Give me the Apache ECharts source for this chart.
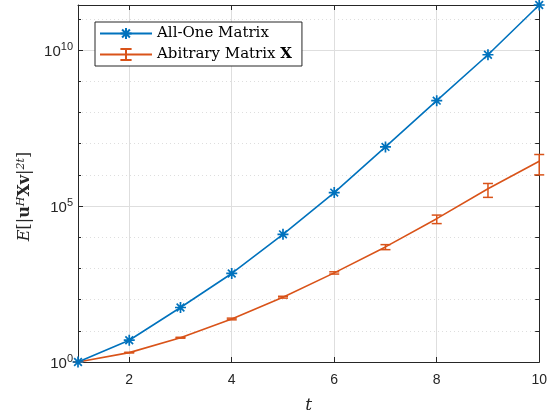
<!DOCTYPE html>
<html>
<head>
<meta charset="utf-8">
<script src="https://cdn.jsdelivr.net/npm/echarts@6/dist/echarts.min.js"></script>
<style>
  html, body { margin: 0; padding: 0; background: #fff; }
  #chart { width: 550px; height: 419px; }
</style>
</head>
<body>
<div id="chart"></div>
<script>
// Moment order t
const tValues = [1, 2, 3, 4, 5, 6, 7, 8, 9, 10];
// E[|u^H X v|^{2t}] for the all-one matrix
const allOneValues = [1, 5, 56, 690, 12400, 2.7e5, 7.9e6, 2.4e8, 7.1e9, 2.8e11];
// Mean and spread for an arbitrary matrix X
const arbitraryMean = [1, 2, 6, 24, 120, 720, 4900, 39400, 3.6e5, 2.75e6];
const arbitraryErr = [0, 0.05, 0.2, 1.5, 8, 60, 900, 12000, 1.7e5, 1.75e6];
// Y-axis range and labelled decades
const yMin = 1;
const yMax = 2.8e11;
const yLabelledExponents = [0, 5, 10];

const BLUE = '#0072BD';
const ORANGE = '#D95319';
const AXIS = '#262626';
const GRID = '#dedede';
const SANS = '"Liberation Sans", Arial, sans-serif';
const SERIF = '"DejaVu Serif", "Liberation Serif", serif';

const asterisk = 'path://M0,-10L0,10M-10,0L10,0M-7,-7L7,7M-7,7L7,-7';
const errIcon = 'path://M-5,-10L5,-10M0,-10L0,10M-5,10L5,10';

const allOneData = tValues.map((t, i) => [t, allOneValues[i]]);
const arbData = tValues.map((t, i) => [t, arbitraryMean[i]]);
const errData = tValues.map((t, i) => [t, arbitraryMean[i] - arbitraryErr[i], arbitraryMean[i] + arbitraryErr[i]]);

const chart = echarts.init(document.getElementById('chart'), null, { renderer: 'canvas' });

function powLabel(v) {
  const e = Math.round(Math.log10(v));
  if (Math.abs(Math.log10(v) - e) > 1e-6 || yLabelledExponents.indexOf(e) < 0) return '';
  return '{b|10}{s|' + e + '}';
}

const yCommon = {
  type: 'log',
  logBase: 10,
  min: yMin,
  max: yMax,
  gridIndex: 0
};

chart.setOption({
  animation: false,
  backgroundColor: '#fff',
  grid: { left: 78, right: 10, top: 5, bottom: 56, containLabel: false },
  legend: {
    left: 95, top: 22,
    orient: 'vertical',
    backgroundColor: '#fff',
    borderColor: AXIS,
    borderWidth: 1,
    borderRadius: 0,
    padding: [4, 10, 4, 4],
    itemGap: 6,
    itemWidth: 52,
    itemHeight: 14,
    data: [
      { name: 'All-One Matrix' },
      { name: 'Abitrary Matrix X' }
    ],
    formatter: function (name) {
      if (name === 'Abitrary Matrix X') return '{n|Abitrary Matrix }{bx|X}';
      return '{n|' + name + '}';
    },
    textStyle: {
      fontFamily: SERIF, fontSize: 15, color: '#000',
      rich: {
        n: { fontFamily: SERIF, fontSize: 15, color: '#000' },
        bx: { fontFamily: SERIF, fontSize: 15, color: '#000', fontWeight: 'bold' }
      }
    }
  },
  xAxis: [
    {
      type: 'value', min: 1, max: 10, splitNumber: 5,
      position: 'bottom',
      axisLine: { show: true, lineStyle: { color: AXIS, width: 1 } },
      axisTick: { show: true, inside: true, length: 5, lineStyle: { color: AXIS } },
      axisLabel: {
        margin: 11, fontFamily: SANS, fontSize: 14, color: AXIS,
        formatter: v => (v % 2 === 0 ? String(v) : '')
      },
      splitLine: { show: true, lineStyle: { color: GRID, width: 1 } },
      name: 't',
      nameLocation: 'middle',
      nameGap: 35,
      nameTextStyle: { fontFamily: SERIF, fontStyle: 'italic', fontSize: 17, color: AXIS }
    },
    {
      type: 'value', min: 1, max: 10, splitNumber: 5,
      position: 'top',
      axisLine: { show: true, lineStyle: { color: AXIS, width: 1 } },
      axisTick: { show: true, inside: true, length: 5, lineStyle: { color: AXIS } },
      axisLabel: { show: false },
      splitLine: { show: false }
    }
  ],
  yAxis: [
    Object.assign({}, yCommon, {
      position: 'left',
      interval: 5,
      axisLine: { show: true, lineStyle: { color: AXIS, width: 1 } },
      axisTick: { show: true, inside: true, length: 5, lineStyle: { color: AXIS } },
      axisLabel: {
        margin: 5,
        showMaxLabel: false,
        formatter: powLabel,
        rich: {
          b: { fontFamily: SANS, fontSize: 15, color: AXIS, lineHeight: 18, verticalAlign: 'bottom' },
          s: { fontFamily: SANS, fontSize: 11, color: AXIS, lineHeight: 11, verticalAlign: 'top' }
        }
      },
      splitLine: { show: true, lineStyle: { color: GRID, width: 1 } },
      name: '{i|E}{n|[|}{bd|u}{sup|H}{bd|Xv}{n||}{sup|2t}{n|]}',
      nameLocation: 'middle',
      nameRotate: 90,
      nameGap: 36,
      nameTextStyle: {
        color: AXIS,
        padding: [0, 26, 0, 0],
        rich: {
          i: { fontFamily: SERIF, fontStyle: 'italic', fontSize: 16, color: AXIS, lineHeight: 18, verticalAlign: 'bottom' },
          n: { fontFamily: SERIF, fontSize: 16, color: AXIS, lineHeight: 18, verticalAlign: 'bottom' },
          bd: { fontFamily: SERIF, fontWeight: 'bold', fontSize: 16, color: AXIS, lineHeight: 18, verticalAlign: 'bottom' },
          sup: { fontFamily: SERIF, fontStyle: 'italic', fontSize: 11, color: AXIS, lineHeight: 11, verticalAlign: 'top' }
        }
      }
    }),
    Object.assign({}, yCommon, {
      position: 'left',
      interval: 1,
      axisLine: { show: false },
      axisTick: { show: true, inside: true, length: 3, lineStyle: { color: AXIS } },
      axisLabel: { show: false },
      splitLine: { show: true, lineStyle: { color: GRID, width: 1, type: [1, 3] } }
    }),
    Object.assign({}, yCommon, {
      position: 'right',
      interval: 1,
      axisLine: { show: true, lineStyle: { color: AXIS, width: 1 } },
      axisTick: { show: true, inside: true, length: 4, lineStyle: { color: AXIS } },
      axisLabel: { show: false },
      splitLine: { show: false }
    })
  ],
  series: [
    {
      name: 'All-One Matrix',
      type: 'line',
      data: allOneData,
      xAxisIndex: 0, yAxisIndex: 0,
      symbol: asterisk,
      symbolSize: 11,
      showSymbol: true,
      lineStyle: { color: BLUE, width: 1.6 },
      itemStyle: { color: 'rgba(0,0,0,0)', borderColor: BLUE, borderWidth: 1.7 },
      z: 4
    },
    {
      name: 'Abitrary Matrix X',
      type: 'line',
      data: arbData,
      xAxisIndex: 0, yAxisIndex: 0,
      symbol: errIcon,
      symbolSize: [10, 0.001],
      lineStyle: { color: ORANGE, width: 1.6 },
      itemStyle: { color: 'rgba(0,0,0,0)', borderColor: ORANGE, borderWidth: 1.5 },
      z: 3
    },
    {
      name: 'err',
      type: 'custom',
      xAxisIndex: 0, yAxisIndex: 0,
      data: errData,
      z: 3,
      renderItem: function (params, api) {
        const x = api.value(0);
        const lo = api.coord([x, api.value(1)]);
        const hi = api.coord([x, api.value(2)]);
        const half = 5;
        const style = { stroke: ORANGE, lineWidth: 1.5, fill: null };
        return {
          type: 'group',
          children: [
            { type: 'line', shape: { x1: lo[0], y1: lo[1], x2: hi[0], y2: hi[1] }, style: style },
            { type: 'line', shape: { x1: lo[0] - half, y1: lo[1], x2: lo[0] + half, y2: lo[1] }, style: style },
            { type: 'line', shape: { x1: hi[0] - half, y1: hi[1], x2: hi[0] + half, y2: hi[1] }, style: style }
          ]
        };
      }
    }
  ]
});
</script>
</body>
</html>
